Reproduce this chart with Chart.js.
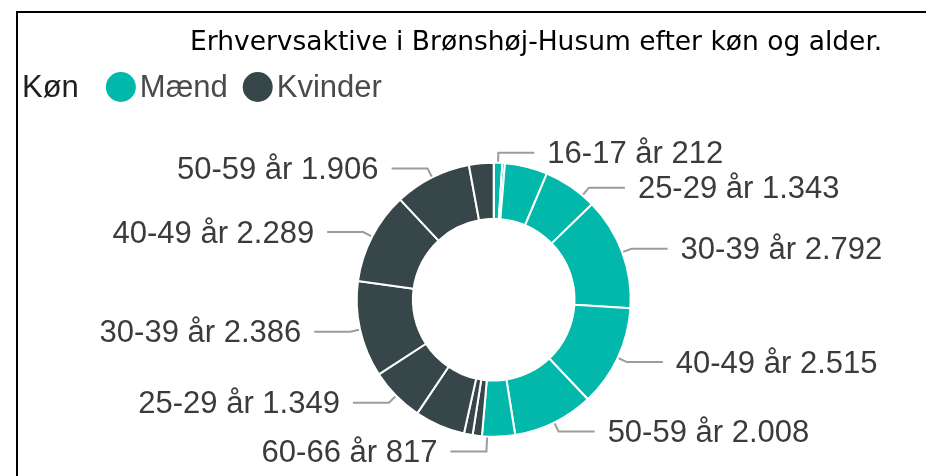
<!DOCTYPE html>
<html lang="da">
<head>
<meta charset="utf-8">
<title>Erhvervsaktive i Brønshøj-Husum</title>
<script src="https://cdn.jsdelivr.net/npm/chart.js@4.4.1/dist/chart.umd.min.js"></script>
<style>
  html, body { margin: 0; padding: 0; background: #ffffff; overflow: hidden; }
  #wrap { position: relative; width: 926px; height: 476px; }
  #frame { position: absolute; left: 16px; top: 11px; width: 1000px; height: 600px;
           border: 2px solid #000; box-sizing: border-box; pointer-events: none; }
  canvas { position: absolute; left: 0; top: 0; }
</style>
</head>
<body>
<div id="wrap">
  <canvas id="chart" width="926" height="476"></canvas>
  <div id="frame"></div>
</div>
<script>
// Erhvervsaktive efter køn og aldersgruppe
const titleText = 'Erhvervsaktive i Brønshøj-Husum efter køn og alder.';
const legendTitle = 'Køn';
const genders = ['Mænd', 'Kvinder'];
const genderColors = ['#01B8AA', '#374649'];
const ageGroups = ['16-17 år', '18-19 år', '20-24 år', '25-29 år', '30-39 år', '40-49 år', '50-59 år', '60-66 år'];
const maendValues = [212, 65, 1060, 1343, 2792, 2515, 2008, 817];
const kvinderValues = [230, 215, 1250, 1349, 2386, 2289, 1906, 610];
// Aldersgrupper der får en dataetiket
const labelledMaend = ['16-17 år', '25-29 år', '30-39 år', '40-49 år', '50-59 år', '60-66 år'];
const labelledKvinder = ['25-29 år', '30-39 år', '40-49 år', '50-59 år'];

// Slices: alle mænd først, derefter kvinder
const slices = [];
ageGroups.forEach((age, i) => slices.push({ gender: 0, age, value: maendValues[i], show: labelledMaend.includes(age) }));
ageGroups.forEach((age, i) => slices.push({ gender: 1, age, value: kvinderValues[i], show: labelledKvinder.includes(age) }));

// Etiketplacering: små justeringer af ledelinjernes vinkel/side
const labelTweaks = {
  'Mænd 25-29 år': { angle: 6 },
  'Mænd 60-66 år': { angle: 4.8, side: -1, ext: 15 }
};

function fmtDa(n) {
  return String(n).replace(/\B(?=(\d{3})+(?!\d))/g, '.');
}

const labelFont = '31px "Liberation Sans", Arial, sans-serif';

const leaderPlugin = {
  id: 'leaders',
  afterDatasetsDraw(chart) {
    const ctx = chart.ctx;
    const meta = chart.getDatasetMeta(0);
    ctx.save();
    meta.data.forEach((arc, i) => {
      const s = slices[i];
      if (!s.show) return;
      const tw = labelTweaks[genders[s.gender] + ' ' + s.age] || {};
      const p = arc.getProps(['x', 'y', 'startAngle', 'endAngle', 'outerRadius'], true);
      const a = (p.startAngle + p.endAngle) / 2 + (tw.angle || 0) * Math.PI / 180;
      const dx = Math.cos(a), dy = Math.sin(a);
      const side = tw.side || (dx >= 0 ? 1 : -1);
      const ext = tw.ext || 10;
      const ax = p.x + (p.outerRadius + 1) * dx, ay = p.y + (p.outerRadius + 1) * dy;
      const ex = p.x + (p.outerRadius + ext) * dx, ey = p.y + (p.outerRadius + ext) * dy;
      const hx = ex + side * 36;
      ctx.strokeStyle = '#9c9c9c';
      ctx.lineWidth = 2;
      ctx.beginPath();
      ctx.moveTo(ax, ay);
      ctx.lineTo(ex, ey);
      ctx.lineTo(hx, ey);
      ctx.stroke();
      ctx.font = labelFont;
      ctx.fillStyle = '#3b3b3b';
      ctx.textBaseline = 'middle';
      ctx.textAlign = side > 0 ? 'left' : 'right';
      ctx.fillText(s.age + ' ' + fmtDa(s.value), hx + side * 13, ey + 2);
    });
    ctx.restore();
  },
  afterDraw(chart) {
    const ctx = chart.ctx;
    ctx.save();
    // Titel
    ctx.font = '26.5px "DejaVu Sans", sans-serif';
    ctx.fillStyle = '#000';
    ctx.textAlign = 'left';
    ctx.textBaseline = 'alphabetic';
    ctx.fillText(titleText, 190, 50);
    // Forklaring
    ctx.font = '31px "Liberation Sans", Arial, sans-serif';
    ctx.textBaseline = 'middle';
    ctx.fillStyle = '#1e1e1e';
    ctx.fillText(legendTitle, 22, 88);
    let x = 22 + ctx.measureText(legendTitle).width + 27;
    genders.forEach((g, i) => {
      ctx.fillStyle = genderColors[i];
      ctx.beginPath();
      ctx.arc(x + 15, 87, 15, 0, Math.PI * 2);
      ctx.fill();
      x += 34;
      ctx.fillStyle = '#4a4a4a';
      ctx.fillText(g, x, 88);
      x += ctx.measureText(g).width + 15;
    });
    ctx.restore();
  }
};

new Chart(document.getElementById('chart'), {
  type: 'doughnut',
  data: {
    labels: slices.map(s => genders[s.gender] + ' ' + s.age),
    datasets: [{
      data: slices.map(s => s.value),
      backgroundColor: slices.map(s => genderColors[s.gender]),
      borderColor: '#ffffff',
      borderWidth: 2
    }]
  },
  options: {
    responsive: false,
    animation: false,
    cutout: '59%',
    layout: { padding: { top: 161.7, bottom: 38.3, left: 300, right: 238.6 } },
    plugins: {
      legend: { display: false },
      tooltip: { enabled: false },
      title: { display: false }
    }
  },
  plugins: [leaderPlugin]
});
</script>
</body>
</html>
